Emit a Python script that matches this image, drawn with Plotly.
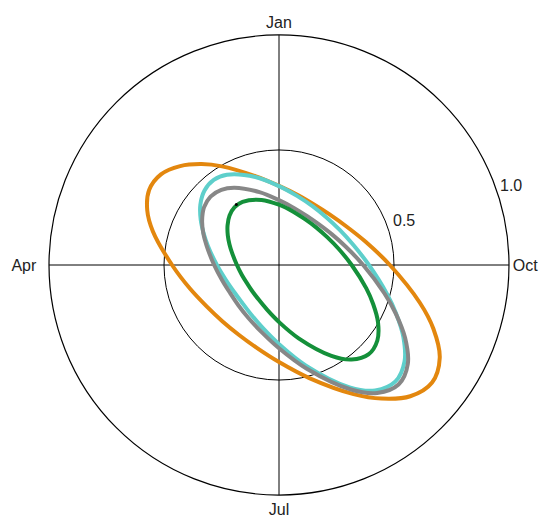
import plotly.graph_objects as go

# Angular positions in degrees (Jan at top, counterclockwise through Apr, Jul, Oct);
# sampled more densely near the two ends of each loop
theta = [270, 285, 300, 315, 330, 345, 0, 15, 30, 37.5, 45, 52.5, 60, 67.5, 75,
         90, 105, 120, 135, 150, 165, 180, 195, 210, 217.5, 225, 232.5, 240, 247.5, 255]

# Radial values of each seasonal loop at the angles above
orange_r = [0.482, 0.390, 0.337, 0.311, 0.304, 0.315, 0.344, 0.400, 0.495, 0.553,
            0.608, 0.647, 0.652, 0.620, 0.568, 0.465, 0.400, 0.362, 0.347, 0.350,
            0.373, 0.422, 0.509, 0.648, 0.732, 0.807, 0.839, 0.807, 0.727, 0.634]
cyan_r = [0.391, 0.335, 0.305, 0.292, 0.294, 0.310, 0.343, 0.396, 0.453, 0.466,
          0.458, 0.431, 0.393, 0.354, 0.320, 0.270, 0.241, 0.228, 0.229, 0.246,
          0.281, 0.344, 0.453, 0.614, 0.687, 0.716, 0.688, 0.624, 0.551, 0.486]
gray_r = [0.366, 0.302, 0.266, 0.248, 0.245, 0.256, 0.282, 0.328, 0.388, 0.412,
          0.421, 0.411, 0.386, 0.356, 0.326, 0.282, 0.256, 0.245, 0.249, 0.266,
          0.300, 0.362, 0.467, 0.625, 0.701, 0.735, 0.706, 0.633, 0.549, 0.474]
green_r = [0.316, 0.269, 0.242, 0.230, 0.229, 0.240, 0.262, 0.293, 0.317, 0.317,
           0.304, 0.282, 0.257, 0.233, 0.212, 0.183, 0.167, 0.160, 0.163, 0.175,
           0.201, 0.248, 0.330, 0.456, 0.518, 0.550, 0.539, 0.497, 0.443, 0.393]

series = [
    ("orange", orange_r, "#E3870E"),
    ("cyan", cyan_r, "#5ECFCB"),
    ("gray", gray_r, "#878787"),
    ("green", green_r, "#14903A"),
]

month_ticks = [0, 90, 180, 270]
month_labels = ["Jan", "Apr\u00a0\u00a0", "Jul", "Oct"]
radial_ticks = [0.5, 1.0]
radial_labels = ["0.5", "1.0"]

# Small start marker on the green loop
marker_theta = [35.2]
marker_r = [0.322]

fig = go.Figure()
for name, r, color in series:
    fig.add_trace(go.Scatterpolar(
        r=r + r[:1],
        theta=theta + theta[:1],
        mode="lines",
        name=name,
        line=dict(color=color, width=4, shape="spline", smoothing=1.0),
        hoverinfo="skip",
        showlegend=False,
    ))

fig.add_trace(go.Scatterpolar(
    r=marker_r, theta=marker_theta, mode="markers",
    marker=dict(color="black", size=3), showlegend=False, hoverinfo="skip",
))

# Plot area is a 460 px square; radial labels sit just right of each ring at ~22 deg
plot_left, plot_bottom, plot_size = 49, 495, 460
label_px = [(391, 220), (498, 185)]
annotations = [
    dict(text=txt, x=(px - plot_left) / plot_size, y=(plot_bottom - py) / plot_size,
         xref="paper", yref="paper", xanchor="left", yanchor="middle",
         showarrow=False, font=dict(size=16, color="#222222"))
    for txt, (px, py) in zip(radial_labels, label_px)
]

fig.update_layout(
    width=540, height=519,
    margin=dict(l=49, r=31, t=35, b=24),
    paper_bgcolor="white",
    font=dict(family="Liberation Sans, Arial, sans-serif", size=16, color="#222222"),
    annotations=annotations,
    polar=dict(
        bgcolor="white",
        angularaxis=dict(
            rotation=90, direction="counterclockwise",
            tickmode="array", tickvals=month_ticks, ticktext=month_labels,
            showline=True, linecolor="black", linewidth=1.2,
            showgrid=True, gridcolor="black", gridwidth=1.2,
            ticks="",
        ),
        radialaxis=dict(
            range=[0, 1], angle=22.5,
            tickmode="array", tickvals=radial_ticks, ticktext=radial_labels,
            showline=False, ticks="", showticklabels=False,
            showgrid=True, gridcolor="black", gridwidth=1.2,
        ),
    ),
)

fig.write_html("out.html")
